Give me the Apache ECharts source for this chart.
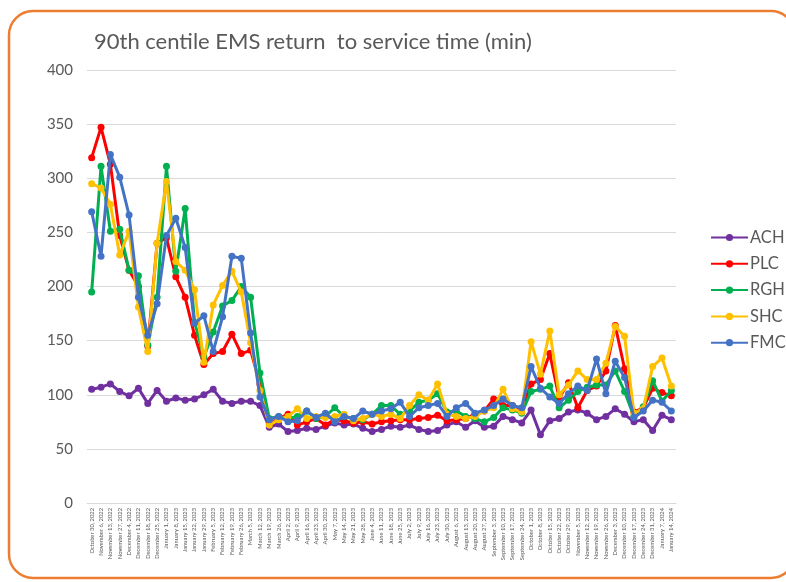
<!DOCTYPE html>
<html>
<head>
<meta charset="utf-8">
<script src="https://cdn.jsdelivr.net/npm/echarts@6/dist/echarts.min.js"></script>
<style>
  html, body { margin: 0; padding: 0; background: #ffffff; }
  #chart { width: 786px; height: 582px; }
</style>
</head>
<body>
<div id="chart"></div>
<script>
// Weekly reporting periods
const weeks = [
  'October 30, 2022', 'November 6, 2022', 'November 13, 2022', 'November 27, 2022',
  'December 4, 2022', 'December 11, 2022', 'December 18, 2022', 'December 25, 2022',
  'January 1, 2023', 'January 8, 2023', 'January 15, 2023', 'January 22, 2023',
  'January 29, 2023', 'February 5, 2023', 'February 12, 2023', 'February 19, 2023',
  'February 26, 2023', 'March 5, 2023', 'March 12, 2023', 'March 19, 2023',
  'March 26, 2023', 'April 2, 2023', 'April 9, 2023', 'April 16, 2023',
  'April 23, 2023', 'April 30, 2023', 'May 7, 2023', 'May 14, 2023',
  'May 21, 2023', 'May 28, 2023', 'June 4, 2023', 'June 11, 2023',
  'June 18, 2023', 'June 25, 2023', 'July 2, 2023', 'July 9, 2023',
  'July 16, 2023', 'July 23, 2023', 'July 30, 2023', 'August 6, 2023',
  'August 13, 2023', 'August 20, 2023', 'August 27, 2023', 'September 3, 2023',
  'September 10, 2023', 'September 17, 2023', 'September 24, 2023', 'October 1, 2023',
  'October 8, 2023', 'October 15, 2023', 'October 22, 2023', 'October 29, 2023',
  'November 5, 2023', 'November 12, 2023', 'November 19, 2023', 'November 26, 2023',
  'December 3, 2023', 'December 10, 2023', 'December 17, 2023', 'December 24, 2023',
  'December 31, 2023', 'January 7, 2024', 'January 14, 2024'
];

// 90th centile return-to-service time (minutes) per site
const ACH = [
  105, 107, 110, 103, 99, 106, 92, 104, 94, 97, 95, 96, 100, 105, 94, 92, 94, 94, 90,
  70, 73, 66, 67, 69, 68, 71, 74, 72, 73, 69, 66, 68, 71, 70, 72, 68, 66, 67, 72, 75, 70, 76, 70,
  71, 80, 77, 74, 86, 63, 76, 78, 84, 86, 83, 77, 80, 87, 82, 75, 77, 67, 81, 77
];
const PLC = [
  319, 347, 313, 247, 215, 200, 145, 240, 245, 209, 190, 155, 128, 138, 140, 156, 138, 141, 110,
  73, 78, 82, 72, 75, 78, 72, 77, 76, 74, 75, 73, 75, 76, 77, 77, 78, 79, 81, 76, 77, 78, 82, 85,
  96, 90, 90, 87, 110, 114, 138, 97, 111, 88, 104, 108, 122, 164, 124, 84, 88, 106, 102, 99
];
const RGH = [
  195, 311, 251, 253, 215, 210, 146, 190, 311, 214, 272, 167, 135, 158, 182, 187, 200, 190, 120,
  78, 80, 78, 80, 85, 78, 80, 88, 80, 78, 77, 82, 90, 90, 82, 85, 93, 95, 101, 84, 85, 80, 78, 75,
  79, 88, 86, 83, 103, 105, 108, 88, 95, 103, 107, 109, 109, 122, 103, 80, 89, 113, 94, 104
];
const SHC = [
  295, 291, 276, 229, 251, 181, 140, 240, 297, 223, 215, 197, 130, 183, 201, 214, 195, 148, 104,
  72, 77, 80, 87, 78, 80, 79, 80, 82, 76, 78, 82, 80, 82, 78, 90, 100, 95, 110, 82, 80, 78, 80, 85,
  88, 105, 87, 84, 149, 119, 159, 100, 109, 122, 114, 114, 129, 163, 154, 83, 87, 126, 134, 108
];
const FMC = [
  269, 228, 322, 301, 266, 190, 155, 184, 247, 263, 236, 166, 173, 140, 172, 228, 226, 157, 98,
  77, 80, 75, 76, 85, 79, 83, 75, 80, 78, 85, 82, 85, 87, 93, 80, 88, 90, 92, 80, 88, 92, 83, 86,
  90, 96, 90, 88, 126, 106, 98, 92, 101, 108, 104, 133, 101, 131, 116, 79, 85, 95, 93, 85
];

const siteNames = ['ACH', 'PLC', 'RGH', 'SHC', 'FMC'];
const siteValues = [ACH, PLC, RGH, SHC, FMC];
const siteColors = ['#7030A0', '#FF0000', '#00B050', '#FFC000', '#4472C4'];

const FONT = 'Lato, "Open Sans", sans-serif';
const TEXT = '#595959';

const chart = echarts.init(document.getElementById('chart'), null, { renderer: 'canvas' });

chart.setOption({
  animation: false,
  backgroundColor: '#ffffff',
  graphic: [{
    // rounded orange frame; its right side runs past the canvas edge
    type: 'rect',
    z: -10,
    shape: { x: 9, y: 11, width: 786, height: 567, r: 24 },
    style: { fill: '#ffffff', stroke: '#ED7D31', lineWidth: 2.5 }
  }],
  title: {
    text: '90th centile EMS return  to service time (min)',
    left: 89,
    top: 26,
    textStyle: { fontFamily: FONT, fontSize: 22, fontWeight: 'normal', color: TEXT }
  },
  legend: {
    orient: 'vertical',
    left: 705,
    top: 224,
    itemWidth: 37,
    itemHeight: 9,
    itemGap: 9.3,
    data: siteNames,
    textStyle: { fontFamily: FONT, fontSize: 16.5, color: TEXT, lineHeight: 17, padding: [0, 0, 0, -3] }
  },
  grid: { left: 87, right: 110, top: 70, bottom: 79 },
  xAxis: {
    type: 'category',
    data: weeks,
    boundaryGap: true,
    axisLine: { show: true, lineStyle: { color: '#D9D9D9', width: 1 } },
    axisTick: { show: false },
    axisLabel: {
      interval: 0,
      rotate: 90,
      margin: 5,
      fontFamily: FONT,
      fontSize: 5.8,
      color: TEXT
    }
  },
  yAxis: {
    type: 'value',
    min: 0,
    max: 400,
    interval: 50,
    axisLine: { show: false },
    axisTick: { show: false },
    splitLine: { lineStyle: { color: '#D9D9D9', width: 1 } },
    axisLabel: { fontFamily: FONT, fontSize: 15, color: TEXT, margin: 14 }
  },
  series: siteNames.map((name, i) => ({
    name: name,
    type: 'line',
    data: siteValues[i],
    symbol: 'circle',
    symbolSize: 7,
    color: siteColors[i],
    lineStyle: { width: 3, color: siteColors[i] },
    itemStyle: { color: siteColors[i] },
    z: 2 + i
  }))
});
</script>
</body>
</html>
